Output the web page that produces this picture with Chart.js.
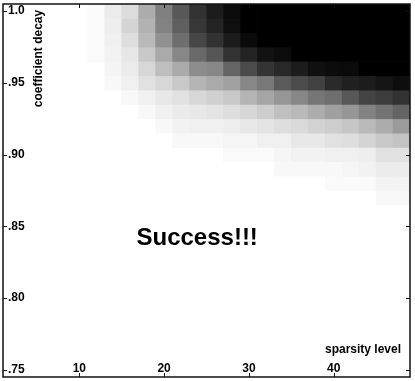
<!DOCTYPE html>
<html>
<head>
<meta charset="utf-8">
<script src="https://cdn.jsdelivr.net/npm/chart.js@4"></script>
<style>
  body { margin: 0; background: #fff; }
</style>
</head>
<body>
<canvas id="heatmap" width="415" height="381"></canvas>
<script>
// sparsity level of each column (every cell is 2 levels wide)
const sparsity = [12, 14, 16, 18, 20, 22, 24, 26, 28, 30, 32, 34, 36, 38, 40, 42, 44, 46, 48];
// coefficient decay of each row, top to bottom
const decay = [1.00, 0.99, 0.98, 0.97, 0.96, 0.95, 0.94, 0.93, 0.92, 0.91, 0.90, 0.89, 0.88, 0.87];

// grey level of each cell, 0 = black, 255 = white (one array per decay row)
const row100 = [250, 235, 220, 172, 128, 88, 50, 28, 12, 0, 0, 0, 0, 0, 0, 0, 0, 0, 0];
const row99 = [250, 238, 212, 178, 130, 95, 55, 35, 15, 0, 0, 0, 0, 0, 0, 0, 0, 0, 0];
const row98 = [250, 240, 222, 185, 145, 110, 70, 50, 28, 10, 0, 0, 0, 0, 0, 0, 0, 0, 0];
const row97 = [250, 242, 230, 200, 170, 135, 105, 85, 50, 35, 18, 12, 0, 0, 0, 0, 0, 0, 0];
const row96 = [255, 244, 235, 215, 190, 170, 140, 135, 100, 75, 52, 40, 28, 16, 12, 10, 0, 0, 0];
const row95 = [255, 248, 240, 225, 215, 200, 180, 170, 160, 135, 120, 90, 75, 65, 42, 32, 28, 20, 14];
const row94 = [255, 255, 248, 240, 232, 225, 215, 208, 200, 180, 165, 150, 135, 118, 110, 88, 68, 60, 50];
const row93 = [255, 255, 255, 248, 240, 235, 232, 228, 222, 215, 205, 192, 185, 172, 160, 150, 130, 115, 100];
const row92 = [255, 255, 255, 255, 248, 242, 240, 240, 238, 232, 228, 222, 218, 210, 205, 198, 185, 172, 155];
const row91 = [255, 255, 255, 255, 255, 248, 248, 248, 245, 245, 240, 240, 232, 232, 225, 222, 212, 200, 195];
const row90 = [255, 255, 255, 255, 255, 255, 255, 255, 250, 250, 250, 246, 242, 242, 240, 240, 238, 225, 225];
const row89 = [255, 255, 255, 255, 255, 255, 255, 255, 255, 255, 255, 248, 248, 248, 248, 245, 242, 236, 236];
const row88 = [255, 255, 255, 255, 255, 255, 255, 255, 255, 255, 255, 255, 255, 255, 250, 250, 250, 242, 242];
const row87 = [255, 255, 255, 255, 255, 255, 255, 255, 255, 255, 255, 255, 255, 255, 255, 255, 255, 248, 248];
const shade = [row100, row99, row98, row97, row96, row95, row94, row93, row92, row91, row90, row89, row88, row87];

const xTicks = [10, 20, 30, 40];
const yTicks = [0.75, 0.80, 0.85, 0.90, 0.95, 1.00];
const yTickLabels = [".75", ".80", ".85", ".90", ".95", "1.0"];

const FONT = "'Liberation Sans', Arial, sans-serif";
const half = (sparsity[1] - sparsity[0]) / 2;

// one dataset per decay row, each cell is a floating horizontal bar
const datasets = decay.map((d, r) => {
  const cells = [];
  const colors = [];
  sparsity.forEach((s, c) => {
    const g = shade[r][c];
    if (g >= 255) return; // white = background
    cells.push({ y: d, x: [s - half, s + half] });
    colors.push(`rgb(${g},${g},${g})`);
  });
  return {
    data: cells,
    backgroundColor: colors,
    borderWidth: 0,
    grouped: false,
    categoryPercentage: 1,
    barPercentage: 1,
  };
});

// frame, inward tick marks and the text labels
const framePlugin = {
  id: "frame",
  afterDatasetsDraw(chart) {
    const { ctx, chartArea: a, scales } = chart;
    const x = scales.x;
    const y = scales.y;
    ctx.save();
    ctx.strokeStyle = "#111";
    ctx.lineWidth = 1;
    ctx.beginPath();
    xTicks.forEach((v) => {
      const px = Math.round(x.getPixelForValue(v)) + 0.5;
      ctx.moveTo(px, a.top);
      ctx.lineTo(px, a.top + 4);
      ctx.moveTo(px, a.bottom);
      ctx.lineTo(px, a.bottom - 4);
    });
    yTicks.forEach((v) => {
      const py = Math.round(y.getPixelForValue(v)) + 0.5;
      ctx.moveTo(a.left, py);
      ctx.lineTo(a.left + 4, py);
      ctx.moveTo(a.right, py);
      ctx.lineTo(a.right - 4, py);
    });
    ctx.stroke();
    ctx.lineWidth = 1.5;
    ctx.strokeRect(a.left, a.top, a.right - a.left, a.bottom - a.top);

    ctx.fillStyle = "#000";
    ctx.font = "bold 24px " + FONT;
    ctx.textAlign = "center";
    ctx.fillText("Success!!!", x.getPixelForValue(23.9), y.getPixelForValue(0.837));

    ctx.font = "bold 12px " + FONT;
    ctx.textAlign = "right";
    ctx.fillText("sparsity level", a.right - 9, a.bottom - 24.5);

    ctx.translate(a.left + 39, a.top + 54.5);
    ctx.rotate(-Math.PI / 2);
    ctx.textAlign = "center";
    ctx.fillText("coefficient decay", 0, 0);
    ctx.restore();
  },
};

const tickFont = { family: FONT, size: 12, weight: "bold" };

new Chart(document.getElementById("heatmap"), {
  type: "bar",
  data: { datasets: datasets },
  options: {
    indexAxis: "y",
    responsive: false,
    animation: false,
    layout: { padding: { left: 3, top: 4, right: 5, bottom: 4 } },
    plugins: { legend: { display: false }, tooltip: { enabled: false } },
    scales: {
      x: {
        type: "linear",
        position: "bottom",
        min: 1,
        max: 49,
        offset: false,
        afterBuildTicks: (s) => { s.ticks = xTicks.map((v) => ({ value: v })); },
        afterFit: (s) => { s.height = 0; s.paddingLeft = 0; s.paddingRight = 0; },
        grid: { display: false, drawTicks: false },
        border: { display: false },
        ticks: { mirror: true, padding: 1, color: "#000", font: tickFont, maxRotation: 0, autoSkip: false },
      },
      y: {
        type: "linear",
        position: "left",
        min: 0.745,
        max: 1.005,
        offset: false,
        afterBuildTicks: (s) => { s.ticks = yTicks.map((v) => ({ value: v })); },
        afterFit: (s) => { s.width = 0; s.paddingTop = 0; s.paddingBottom = 0; },
        grid: { display: false, drawTicks: false },
        border: { display: false },
        ticks: {
          mirror: true,
          padding: 5,
          color: "#000",
          font: tickFont,
          autoSkip: false,
          callback: (v, i) => yTickLabels[i],
        },
      },
    },
  },
  plugins: [framePlugin],
});
</script>
</body>
</html>
